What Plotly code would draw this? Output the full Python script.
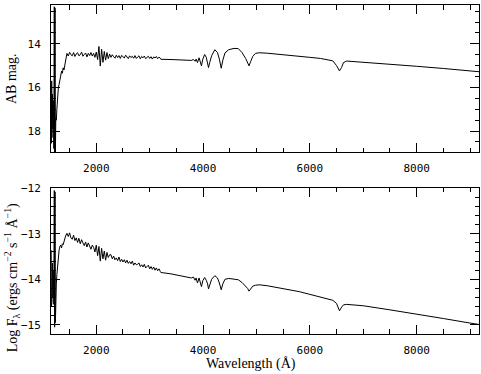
import plotly.graph_objects as go

# ---------------- data ----------------
# UV start (steep, noisy edge near Lyman alpha)
wl_uv_start = [1155, 1160, 1165, 1170, 1178, 1186, 1195, 1205, 1214, 1220, 1227, 1234,
               1242, 1252, 1262, 1275, 1290, 1305, 1320, 1335, 1350, 1365, 1380, 1395,
               1410, 1425]
mag_uv_start = [16.75, 18.56, 15.70, 18.30, 16.30, 17.90, 16.60, 18.80, 12.30, 19.20, 12.35, 19.10,
                17.40, 17.50, 17.00, 16.20, 16.00, 15.85, 15.60, 15.40, 15.25, 15.35, 15.10, 15.20,
                14.95, 14.65]
flux_uv_start = [-13.36, -14.60, -13.42, -14.50, -13.64, -14.40, -13.80, -14.55, -12.05, -15.05, -12.08, -14.95,
                 -14.17, -14.10, -13.90, -13.68, -13.55, -13.35, -13.27, -13.25, -13.31, -13.22, -13.24, -13.15,
                 -13.10, -13.05]

# UV plateau (noisy spectrum sampled every 25 A)
wl_uv = [1450, 1475, 1500, 1525, 1550, 1575, 1600, 1625, 1650, 1675,
         1700, 1725, 1750, 1775, 1800, 1825, 1850, 1875, 1900, 1925,
         1950, 1975, 2000, 2025, 2050, 2075, 2100, 2125, 2150, 2175,
         2200, 2225, 2250,
         2275, 2300, 2325, 2350, 2375, 2400, 2425, 2450, 2475, 2500,
         2525, 2550, 2575, 2600, 2625, 2650, 2675, 2700, 2725, 2750,
         2775, 2800, 2825, 2850, 2875, 2900, 2925, 2950, 2975, 3000,
         3025, 3050, 3075, 3100, 3125, 3150, 3175, 3200]
mag_uv = [14.44, 14.56, 14.39, 14.50, 14.55, 14.40, 14.58, 14.46, 14.41, 14.55,
          14.50, 14.38, 14.57, 14.49, 14.42, 14.60, 14.44, 14.54, 14.40, 14.56,
          14.44, 14.62, 14.38, 14.72, 14.12, 15.02, 14.25, 14.85, 14.35, 14.75,
          14.40, 14.68, 14.47,
          14.62, 14.50, 14.59, 14.66, 14.52, 14.63, 14.54, 14.67, 14.53, 14.60,
          14.65, 14.52, 14.61, 14.68, 14.55, 14.63, 14.57, 14.66, 14.54, 14.67,
          14.60, 14.55, 14.69, 14.58, 14.64, 14.56, 14.68, 14.60, 14.57, 14.67,
          14.59, 14.70, 14.60, 14.65, 14.58, 14.68, 14.61, 14.66]
flux_uv = [-12.99, -13.06, -12.98, -13.09, -13.12, -13.03, -13.15, -13.09, -13.19, -13.10,
           -13.22, -13.13, -13.20, -13.26, -13.18, -13.29, -13.20, -13.27, -13.34, -13.25,
           -13.30, -13.40, -13.25, -13.48, -13.28, -13.60, -13.32, -13.55, -13.38, -13.58,
           -13.41, -13.52, -13.46,
           -13.46, -13.55, -13.49, -13.57, -13.53, -13.59, -13.51, -13.61, -13.56, -13.62,
           -13.57, -13.64, -13.58, -13.65, -13.61, -13.66, -13.60, -13.69, -13.64, -13.68,
           -13.67, -13.64, -13.72, -13.68, -13.73, -13.67, -13.75, -13.71, -13.69, -13.77,
           -13.72, -13.78, -13.73, -13.80, -13.75, -13.81, -13.77, -13.83]

# Optical spectrum with Balmer lines
wl_opt = [3210, 3400, 3600, 3780, 3820, 3850, 3870, 3895, 3925, 3950,
          3970, 3995, 4030, 4060, 4085, 4102, 4125, 4160, 4220, 4270,
          4305, 4340, 4370, 4410, 4480, 4580, 4660, 4730, 4800, 4835,
          4861, 4890, 4930, 4980, 5050, 5200, 5450, 5800, 6000, 6200,
          6380, 6430, 6500, 6555, 6595, 6630, 6690, 7000, 7500, 8000,
          8500, 9000, 9170]
mag_opt = [14.71, 14.72, 14.74, 14.76, 14.72, 14.80, 14.70, 14.86, 14.64, 14.80,
           15.01, 14.70, 14.49, 14.62, 14.85, 15.09, 14.85, 14.55, 14.27, 14.40,
           14.70, 15.12, 14.75, 14.42, 14.27, 14.21, 14.22, 14.40, 14.68, 14.85,
           15.01, 14.82, 14.58, 14.44, 14.41, 14.43, 14.48, 14.55, 14.62, 14.67,
           14.74, 14.78, 15.00, 15.24, 15.08, 14.86, 14.79, 14.84, 14.93, 15.03,
           15.13, 15.23, 15.28]
flux_opt = [-13.85, -13.88, -13.92, -13.97, -13.95, -14.02, -13.97, -14.08, -13.97, -14.06,
            -14.16, -14.03, -13.96, -14.02, -14.10, -14.21, -14.10, -14.00, -13.92, -13.97,
            -14.08, -14.23, -14.10, -14.00, -13.98, -13.99, -14.01, -14.07, -14.15, -14.20,
            -14.26, -14.20, -14.15, -14.13, -14.12, -14.14, -14.19, -14.27, -14.33, -14.39,
            -14.43, -14.46, -14.53, -14.69, -14.61, -14.56, -14.55, -14.58, -14.67, -14.76,
            -14.86, -14.96, -14.99]

x_ticks = [2000, 4000, 6000, 8000]
mag_ticks = [14, 16, 18]
flux_ticks = [-12, -13, -14, -15]

# ---------------- figure ----------------
W, H = 481, 374
wl_all = wl_uv_start + wl_uv + wl_opt
mag_all = mag_uv_start + mag_uv + mag_opt
flux_all = flux_uv_start + flux_uv + flux_opt

line = dict(color="black", width=1)
fig = go.Figure()
fig.add_trace(go.Scatter(x=wl_all, y=mag_all, mode="lines", line=line,
                         xaxis="x", yaxis="y", showlegend=False))
fig.add_trace(go.Scatter(x=wl_all, y=flux_all, mode="lines", line=line,
                         xaxis="x2", yaxis="y2", showlegend=False))

tickfont = dict(family="DejaVu Sans Mono", size=11, color="black")
common_x = dict(range=[1152, 9168], tickvals=x_ticks, ticks="inside", ticklen=9,
                tickwidth=1, tickcolor="black", showline=True, linecolor="black",
                linewidth=1, mirror="allticks", showgrid=False, zeroline=False,
                tickfont=tickfont, ticklabelstandoff=6,
                minor=dict(dtick=500, tick0=0, ticks="inside", ticklen=4.5,
                           tickcolor="black", tickwidth=1, showgrid=False))
common_y = dict(ticks="inside", ticklen=9, tickwidth=1, tickcolor="black",
                showline=True, linecolor="black", linewidth=1, mirror="allticks",
                showgrid=False, zeroline=False, tickfont=tickfont, ticklabelstandoff=7)

xd = [51 / W, 479 / W]
fig.update_layout(
    width=W, height=H, margin=dict(l=0, r=0, t=0, b=0),
    paper_bgcolor="white", plot_bgcolor="white",
    xaxis=dict(domain=xd, anchor="y", **common_x),
    yaxis=dict(domain=[1 - 149 / H, 1.0], anchor="x", range=[18.96, 12.22],
               tickvals=mag_ticks,
               minor=dict(dtick=0.5, tick0=0, ticks="inside", ticklen=4.5,
                          tickcolor="black", tickwidth=1, showgrid=False),
               **common_y),
    xaxis2=dict(domain=xd, anchor="y2", **common_x),
    yaxis2=dict(domain=[1 - 333 / H, 1 - 185 / H], anchor="x2", range=[-15.19, -11.985],
                tickvals=flux_ticks,
                minor=dict(dtick=0.2, tick0=0, ticks="inside", ticklen=4.5,
                           tickcolor="black", tickwidth=1, showgrid=False),
                **common_y),
)

titlefont = dict(family="Liberation Serif", size=14, color="black")
fig.add_annotation(text="AB mag.", xref="paper", yref="paper", x=12 / W, y=1 - 75 / H,
                   textangle=-90, showarrow=False, font=titlefont,
                   xanchor="center", yanchor="middle")
fig.add_annotation(text="Log F<sub>λ</sub> (ergs cm<sup>−2</sup> s<sup>−1</sup> Å<sup>−1</sup>)",
                   xref="paper", yref="paper", x=12 / W, y=1 - 277 / H,
                   textangle=-90, showarrow=False, font=titlefont,
                   xanchor="center", yanchor="middle")
fig.add_annotation(text="Wavelength (Å)", xref="paper", yref="paper",
                   x=251 / W, y=1 - 364 / H, showarrow=False, font=titlefont,
                   xanchor="center", yanchor="middle")

fig.write_html("out.html", config={"displayModeBar": False},
               post_script="document.body.style.margin='0';document.body.style.overflow='hidden';")
